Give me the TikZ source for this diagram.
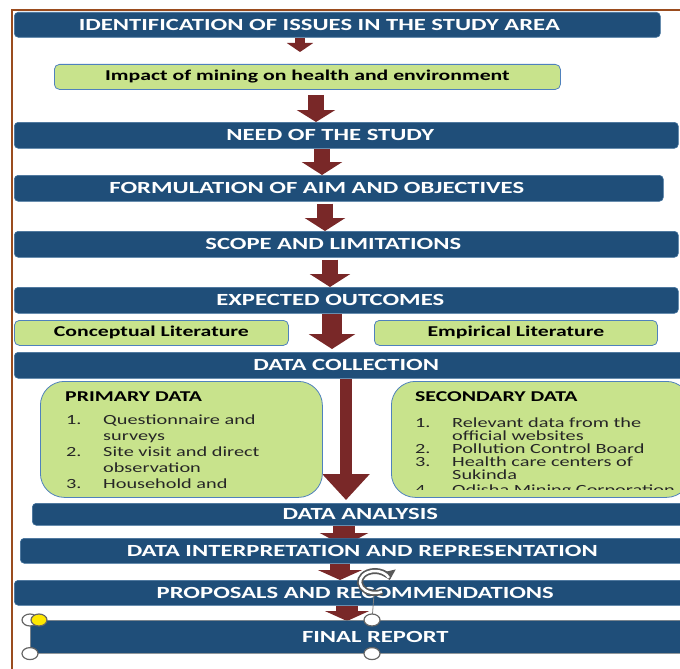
\documentclass[tikz,border=0pt]{standalone}
\usepackage{fontspec}
\setmainfont{Carlito}[FakeStretch=1.45]
\usetikzlibrary{arrows.meta,backgrounds,shapes.geometric}

\definecolor{barblue}{RGB}{31,78,121}
\definecolor{baredge}{RGB}{65,113,156}
\definecolor{boxgreen}{RGB}{200,227,140}
\definecolor{boxedge}{RGB}{79,129,189}
\definecolor{arrowred}{RGB}{121,40,40}
\definecolor{framebrown}{RGB}{154,76,30}
\newcommand\itm[1]{\makebox[37pt][l]{#1}}

\begin{document}
\begin{tikzpicture}[x=1pt,y=-1pt,
  bar/.style={draw=baredge,fill=barblue,rounded corners=4pt,anchor=north west,inner sep=0pt,line width=0.6pt},
  lbl/.style={text=white,font=\fontsize{17}{20}\selectfont\bfseries},
  gbox/.style={draw=boxedge,fill=boxgreen,rounded corners=5pt,anchor=north west,inner sep=0pt,line width=0.8pt,
    font=\fontsize{15}{18}\selectfont\bfseries},
  head/.style={anchor=west,inner sep=0pt,font=\fontsize{15}{18}\selectfont\bfseries},
  items/.style={anchor=north west,inner sep=0pt,align=left,text=black!85,font=\fontsize{14}{16}\selectfont},
  blk/.style n args={3}{draw=arrowred,line width=#1pt,-{Triangle[width=#2pt,length=#3pt]}},
  handle/.style={ellipse,draw=gray!80!black,fill=white,line width=1.2pt,minimum width=16pt,minimum height=12pt,inner sep=0pt}]
\useasboundingbox (0,0) rectangle (680,669);
\draw[framebrown,line width=2.5pt] (12,669) -- (12,10) -- (690,10);

\node[bar,minimum width=646pt,minimum height=25pt,label={[lbl,xshift=-18pt]center:IDENTIFICATION OF ISSUES IN THE STUDY AREA}] (idf) at (14,12) {};
\node[gbox,minimum width=506pt,minimum height=25pt] (imp) at (54,64) {Impact of mining on health and environment};
\node[bar,minimum width=664pt,minimum height=26pt,label={[lbl,xshift=-16pt]center:NEED OF THE STUDY}] (need) at (14,122) {};
\node[bar,minimum width=649pt,minimum height=26pt,label={[lbl,xshift=-22pt]center:FORMULATION OF AIM AND OBJECTIVES}] (form) at (14,175) {};
\node[bar,minimum width=664pt,minimum height=26pt,label={[lbl,xshift=-13pt]center:SCOPE AND LIMITATIONS}] (scope) at (14,231) {};
\node[bar,minimum width=664pt,minimum height=26pt,label={[lbl,xshift=-16pt]center:EXPECTED OUTCOMES}] (exp) at (14,287) {};
\node[gbox,minimum width=274pt,minimum height=25pt] (conc) at (14,320) {Conceptual Literature};
\node[gbox,minimum width=283pt,minimum height=25pt] (emp) at (374,320) {Empirical Literature};
\node[bar,minimum width=676pt,minimum height=26pt,label={[lbl,xshift=-6pt]center:DATA COLLECTION}] (dc) at (14,352) {};

\node[gbox,rounded corners=24pt,minimum width=282pt,minimum height=116pt] (prim) at (40,381) {};
\node[head] (prim-h) at (65,397) {PRIMARY DATA};
\node[items] (prim-l) at (66,415) {\itm{1.}Questionnaire and\\\itm{}surveys\\\itm{2.}Site visit and direct\\\itm{}observation\\\itm{3.}Household and};
\node[gbox,rounded corners=24pt,minimum width=299pt,minimum height=116pt] (sec) at (391,381) {};
\node[head] (sec-h) at (415,397) {SECONDARY DATA};
\begin{scope}
  \clip (391,381) rectangle (690,489);
  \node[items,font=\fontsize{14}{13}\selectfont] (sec-l) at (415,418) {\itm{1.}Relevant data from the\\\itm{}official websites\\\itm{2.}Pollution Control Board\\\itm{3.}Health care centers of\\\itm{}Sukinda\\[1.5pt]\itm{4.}Odisha Mining Corporation};
\end{scope}

\node[bar,minimum width=658pt,minimum height=22pt,label={[lbl,xshift=-1pt]center:DATA ANALYSIS}] (da) at (32,503) {};
\node[bar,minimum width=670pt,minimum height=25pt,label={[lbl,xshift=7pt]center:DATA INTERPRETATION AND REPRESENTATION}] (di) at (20,538) {};
\node[bar,minimum width=676pt,minimum height=25pt,label={[lbl,xshift=3pt]center:PROPOSALS AND RECOMMENDATIONS}] (pr) at (14,580) {};
\node[bar,draw=gray,minimum width=660pt,minimum height=33pt,label={[lbl,xshift=15pt]center:FINAL REPORT}] (fin) at (30,620) {};

\begin{scope}[on background layer]
  \draw[blk={10}{26}{9},shorten >=12pt] (idf.south -| 300,0) -- (imp.north -| 300,0);
  \draw[blk={16}{38}{12},shorten <=5pt] (imp.south -| 316,0) -- (need.north -| 316,0);
  \draw[blk={16}{40}{13}] (need.south -| 322,0) -- (form.north -| 322,0);
  \draw[blk={16}{40}{13},shorten <=2pt] (form.south -| 325,0) -- (scope.north -| 325,0);
  \draw[blk={16}{40}{13},shorten <=2pt] (scope.south -| 330,0) -- (exp.north -| 330,0);
  \draw[blk={20}{46}{15},shorten >=3pt] (exp.south -| 332,0) -- (dc.north -| 332,0);
  \draw[blk={12}{46}{26},shorten >=3pt] (dc.south -| 346,0) -- (da.north -| 346,0);
  \draw[blk={22}{48}{13},shorten >=-8pt] (da.south -| 344,0) -- (di.north -| 344,0);
  \draw[blk={20}{44}{10}] (di.south -| 340,0) -- (pr.north -| 340,0);
  \draw[blk={22}{44}{10},shorten >=-1pt] (pr.south -| 347,0) -- (fin.north -| 347,0);
\end{scope}

\node[ellipse,inner sep=0pt,minimum width=36pt,minimum height=27pt] (rot) at (375,582) {};
\draw[gray!70!black,line width=6pt,-{Triangle[width=16pt,length=9pt]}] (rot.center) ++(60:15 and 11) arc[start angle=60,end angle=350,x radius=15,y radius=11];
\draw[white,line width=2.5pt] (rot.center) ++(62:15 and 11) arc[start angle=62,end angle=338,x radius=15,y radius=11];
\draw[gray,line width=0.8pt] (fin.north -| 372,0) -- (rot);
\node[handle] (hnw) at (fin.north west) {};
\node[handle,fill=yellow!90!orange] (hy) at ([xshift=9pt]fin.north west) {};
\node[handle] (hsw) at (fin.south west) {};
\node[handle] (hn) at (fin.north -| 372,0) {};
\node[handle] (hs) at (fin.south -| 372,0) {};
\end{tikzpicture}
\end{document}
